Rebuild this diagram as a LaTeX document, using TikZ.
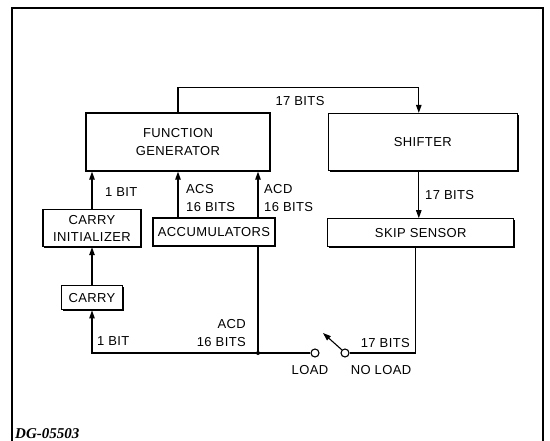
\documentclass[tikz,border=0pt]{standalone}
\usepackage{fontspec}
\setmainfont[LetterSpace=3]{Liberation Sans}
\newfontfamily\figfont{Liberation Serif}
\usetikzlibrary{arrows.meta,positioning,shadows}
\tikzset{
  unit/.style={draw, line width=1.3pt, fill=white, align=center, inner sep=1pt,
    drop shadow={shadow xshift=1.3pt, shadow yshift=-1.3pt, fill=black, opacity=1}},
  wire/.style={line width=1.1pt},
  arrow/.style={-{Triangle[length=8pt,width=5.5pt]}, line width=1.1pt},
  lbl/.style={inner sep=0pt, align=left}
}

\begin{document}
\begin{tikzpicture}[x=1pt, y=-1pt, font=\fontsize{13}{18}\selectfont]
      \useasboundingbox (0,0) rectangle (550,440);
      \draw[line width=1.5pt] (12,450) -- (12,8) -- (543,8) -- (543,450);
      % boxes
      \node[unit, minimum width=184pt, minimum height=58pt] (fg) at (178,142) {FUNCTION\\GENERATOR};
      \node[unit, right=57pt of fg, minimum width=189pt, minimum height=57pt] (shifter) {SHIFTER};
      \node[unit, below=47pt of shifter, xshift=-2pt, minimum width=186pt, minimum height=28pt] (skip) {SKIP SENSOR};
      \node[unit, minimum width=98pt, minimum height=37pt, font=\fontsize{13}{17}\selectfont] (cinit) at (92,228) {CARRY\\INITIALIZER};
      \node[unit, below=38pt of cinit, minimum width=61pt, minimum height=24pt] (carry) {CARRY};
      \node[unit, minimum width=122pt, minimum height=28pt] (acc) at (214,232) {ACCUMULATORS};
      % switch
      \node[draw, wire, circle, minimum size=8pt, inner sep=0pt] (load) at (315,353) {};
      \node[draw, wire, circle, minimum size=8pt, inner sep=0pt] (noload) at (345,353) {};
      \coordinate (jn) at (258,353);
      \coordinate (sw) at (323,333);
      \coordinate (skipout) at ([xshift=-5pt]skip.south);
      % connectors
      \draw[arrow] (fg.north) -- ++(0,-25) -| ([xshift=-4pt]shifter.north);
      \draw[arrow] ([xshift=-4pt]shifter.south) -- ([xshift=-4pt]shifter.south |- skip.north);
      \draw[arrow] (cinit.north) -- (cinit.north |- fg.south);
      \draw[arrow] (carry.north) -- (cinit.south);
      \draw[arrow] ([xshift=-36pt]acc.north) -- ([xshift=-36pt]acc.north |- fg.south);
      \draw[arrow] ([xshift=44pt]acc.north) -- ([xshift=44pt]acc.north |- fg.south);
      \draw[wire] (acc.south -| jn) -- (jn);
      \draw[arrow] (load.west) -- (jn) -| (carry.south);
      \fill (jn) circle (2pt);
      \draw[wire] (noload.east) -| (skipout);
      \draw[arrow] (noload.north west) -- (sw);
      % labels
      \node[lbl] (ltop) at (300,101) {17 BITS};
      \node[lbl, anchor=west] (lbit) at (105,192) {1 BIT};
      \node[lbl, anchor=west] (lacs) at (186,198) {ACS\\16 BITS};
      \node[lbl, anchor=west] (lacd) at (264,198) {ACD\\16 BITS};
      \node[lbl, anchor=west] (lsh) at (425,195) {17 BITS};
      \node[lbl, anchor=west] (lbit2) at (97,341) {1 BIT};
      \node[lbl, anchor=east, align=right] (lacd2) at (246,333) {ACD\\16 BITS};
      \node[lbl, anchor=east] (lsk) at (410,343) {17 BITS};
      \node[lbl] (lload) at (310,370) {LOAD};
      \node[lbl] (lnoload) at (381,370) {NO LOAD};
      \node[lbl, anchor=base west, font=\figfont\fontsize{15}{15}\selectfont\bfseries\itshape] (dg) at (15,438) {DG-05503};
    \end{tikzpicture}
\end{document}
